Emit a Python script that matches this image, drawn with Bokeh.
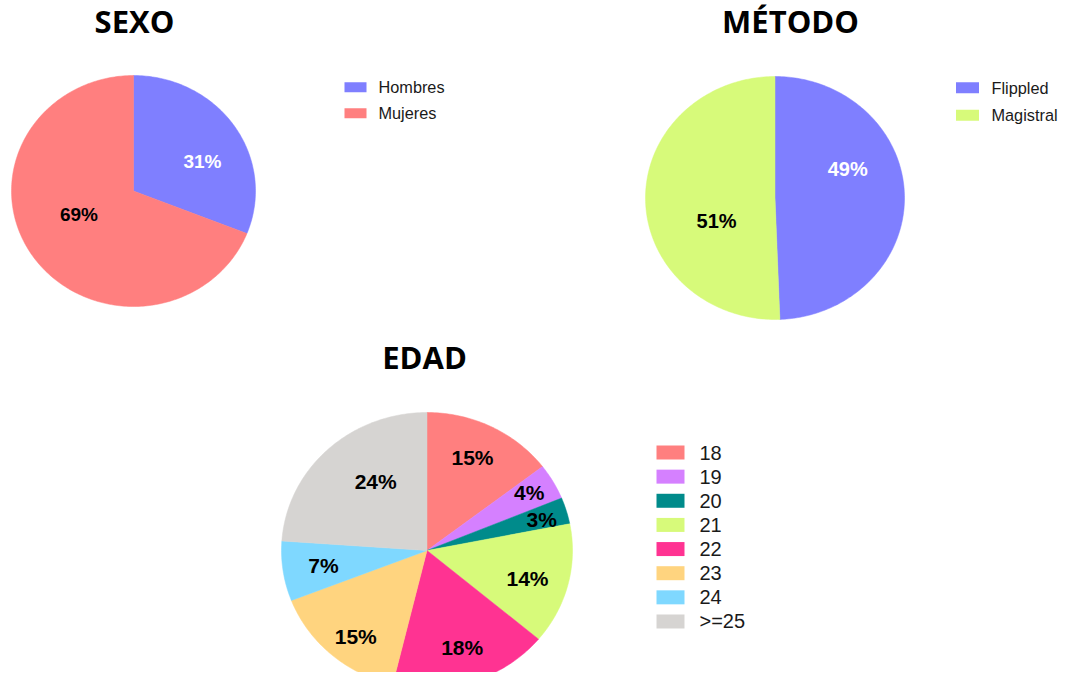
import numpy as np
from bokeh.plotting import figure
from bokeh.models import Range1d, ColumnDataSource
from bokeh.core.properties import value
from bokeh.embed import file_html
from bokeh.resources import INLINE

# ---------------- data ----------------
sexo_categories = ["Hombres", "Mujeres"]
sexo_values = [31, 69]
sexo_colors = ["#7F7FFF", "#FF7F7F"]
sexo_label_colors = ["white", "black"]

metodo_categories = ["Flippled", "Magistral"]
metodo_values = [49.4, 50.6]
metodo_colors = ["#7F7FFF", "#D7FA7A"]
metodo_label_colors = ["white", "black"]

edad_categories = ["18", "19", "20", "21", "22", "23", "24", ">=25"]
edad_values = [14.6, 4.2, 3.1, 14.2, 17.7, 15.3, 7.0, 23.9]
edad_colors = ["#FF7F7F", "#D580FF", "#008B8B", "#D7FA7A",
               "#FF3392", "#FFD47F", "#7FD8FF", "#D6D4D2"]
edad_label_colors = ["black"] * 8

# ---------------- layout (picture pixel coordinates) ----------------
W, H = 1059, 672
layouts = {
    "SEXO": dict(cx=133, cy=190.5, rx=122, ry=115.5,
                 title_x=134, title_y=20,
                 label_r=[0.62, 0.49], label_shift=[10, 10], label_size="19px",
                 leg_x=355, leg_y=86.7, leg_dy=26.1, sw_w=22, sw_h=10,
                 leg_text_x=378, leg_size="16.3px"),
    "MÉTODO": dict(cx=774.5, cy=197.5, rx=129.5, ry=121.5,
                   title_x=790, title_y=20,
                   label_r=[0.61, 0.49], label_shift=[-22, -22], label_size="20px",
                   leg_x=967, leg_y=87.2, leg_dy=27.6, sw_w=23, sw_h=11,
                   leg_text_x=991, leg_size="16.3px"),
    "EDAD": dict(cx=426.5, cy=550, rx=145.5, ry=138,
                 title_x=424, title_y=356.5,
                 label_r=[0.74, 0.82, 0.82, 0.72, 0.74, 0.79, 0.72, 0.61],
                 label_shift=[-1.3, -1.1, 0.7, 2, -0.9, -2.9, 0, 7.7],
                 label_size="21px",
                 leg_x=670, leg_y=452, leg_dy=24.14, sw_w=28, sw_h=14,
                 leg_text_x=699, leg_size="20px"),
}

p = figure(width=W, height=H, output_backend="svg", toolbar_location=None,
           x_range=Range1d(0, W), y_range=Range1d(H, 0),
           x_axis_location=None, y_axis_location=None, min_border=0)
p.grid.visible = False
p.outline_line_color = None
p.background_fill_color = "white"
p.border_fill_color = "white"


def draw_pie(title, cats, vals, colors, label_colors):
    L = layouts[title]
    vals = np.asarray(vals, dtype=float)
    frac = vals / vals.sum()
    ends = np.cumsum(frac) * 2 * np.pi
    starts = ends - frac * 2 * np.pi
    xs, ys = [], []
    lx, ly, ltxt = [], [], []
    for i, (a0, a1) in enumerate(zip(starts, ends)):
        n = max(3, int(np.degrees(a1 - a0)) + 2)
        th = np.linspace(a0, a1, n)
        xs.append([L["cx"]] + list(L["cx"] + L["rx"] * np.sin(th)))
        ys.append([L["cy"]] + list(L["cy"] - L["ry"] * np.cos(th)))
        mid = (a0 + a1) / 2 + np.radians(L["label_shift"][i])
        r = L["label_r"][i]
        lx.append(L["cx"] + r * L["rx"] * np.sin(mid))
        ly.append(L["cy"] - r * L["ry"] * np.cos(mid))
        ltxt.append(f"{round(frac[i] * 100)}%")
    src = ColumnDataSource(dict(xs=xs, ys=ys, color=colors, cat=cats))
    p.patches("xs", "ys", source=src, fill_color="color", line_color="color",
              line_width=0.5)
    p.text(x=lx, y=ly, text=ltxt, text_color=label_colors,
           text_font=value("Liberation Sans"), text_font_style="bold",
           text_font_size=L["label_size"], text_align="center",
           text_baseline="middle")
    # title
    p.text(x=[L["title_x"]], y=[L["title_y"]], text=[title],
           text_font=value("Open Sans"), text_font_style="bold",
           text_font_size="31px", text_align="center",
           text_baseline="alphabetic", text_color="black")
    # legend
    rows = [L["leg_y"] + i * L["leg_dy"] for i in range(len(cats))]
    p.rect(x=[L["leg_x"]] * len(cats), y=rows, width=L["sw_w"], height=L["sw_h"],
           fill_color=colors, line_color=None)
    p.text(x=[L["leg_text_x"]] * len(cats), y=rows, text=list(cats),
           text_font=value("Liberation Sans"), text_font_size=L["leg_size"],
           text_align="left", text_baseline="middle", text_color="#1a1a1a")


draw_pie("SEXO", sexo_categories, sexo_values, sexo_colors, sexo_label_colors)
draw_pie("MÉTODO", metodo_categories, metodo_values, metodo_colors, metodo_label_colors)
draw_pie("EDAD", edad_categories, edad_values, edad_colors, edad_label_colors)

open("out.html", "w").write(file_html(p, INLINE))
